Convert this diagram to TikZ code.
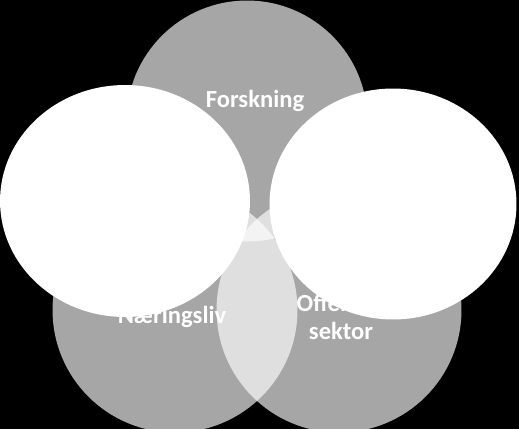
\documentclass[tikz,border=0pt]{standalone}
\usepackage{fontspec}
\setmainfont{Carlito}
\usepackage{tikz}
\usetikzlibrary{shapes.geometric,positioning}
\tikzstyle{sector} = [circle, inner sep=0pt, fill=white, fill opacity=0.65, text opacity=1]
\tikzstyle{cover} = [ellipse, inner sep=0pt, fill=white]
\tikzstyle{label} = [text=white, font=\fontsize{14}{16}\selectfont\bfseries, align=center]

\begin{document}
\begin{tikzpicture}[x=0.02cm, y=-0.02cm]
			% background
			\fill[black] (0,0) rectangle (519,429);
			\useasboundingbox (0,0) rectangle (519,429);
			% centres
			\coordinate (C1) at (247,121);
			\coordinate (C2) at (175,310);
			\coordinate (C3) at (339,310);
			\coordinate (E1) at (125,201);
			\coordinate (E2) at (393,204);
			\begin{scope}[every node/.style={sector, minimum size=4.82cm}]
			\node[name=forskning] at (C1) {};
			\end{scope}
			\begin{scope}[every node/.style={sector, minimum size=4.9cm}]
			\node[name=naering] at (C2) {};
			\node[name=offentlig] at (C3) {};
			\end{scope}
			% texts
			\node[label, name=tforsk] at (255,101) {Forskning};
			\node[label, name=tnaer] at (172,317) {Næringsliv};
			\node[label, name=toff] at (341,317) {Offentlig\\sektor};
			% white ellipses on top
			\begin{scope}[every node/.style={cover, minimum width=5cm, minimum height=4.64cm}]
			\node[name=venstre] at (E1) {};
			\end{scope}
			\begin{scope}[every node/.style={cover, minimum width=4.94cm, minimum height=4.62cm}]
			\node[name=hoyre] at (E2) {};
			\end{scope}
\end{tikzpicture}
\end{document}
